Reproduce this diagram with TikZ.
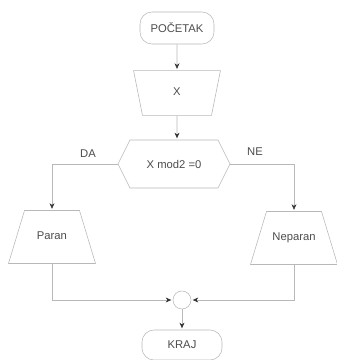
\documentclass[tikz,border=0pt]{standalone}
\usepackage{fontspec}
\setmainfont{Liberation Sans}
\usetikzlibrary{shapes.geometric,shapes.symbols,arrows.meta}
\definecolor{linija}{gray}{0.72}
\definecolor{tekst}{gray}{0.3}
\tikzset{
    blok/.style={draw=linija, text=tekst, font=\fontsize{8}{9}\selectfont, inner sep=1pt},
    terminal/.style={blok, rounded corners=0.3cm, minimum width=1.85cm, minimum height=0.8cm},
    ulaz/.style={blok, trapezium, shape border rotate=180, align=center,
        trapezium left angle=78.7, trapezium right angle=78.7,
        text width=1.725cm, text height=6pt, text depth=2pt, inner xsep=0pt, inner ysep=11.95pt},
    izlaz/.style={blok, trapezium, align=center,
        trapezium left angle=73.2, trapezium right angle=73.2,
        text width=1.375cm, text height=6pt, text depth=2pt, inner xsep=0pt, inner ysep=14.85pt},
    odluka/.style={blok, signal, signal to=east and west, signal pointer angle=127,
        minimum width=2.8cm, minimum height=1.2cm},
    veza/.style={draw=linija, shorten >=1pt, -{Stealth[length=4pt, width=3.5pt, black!80]}}
}
\begin{document}
\begin{tikzpicture}
        \useasboundingbox(0,0)rectangle(8.425,9);
        \node[terminal](poc)at(4.425,8.3){POČETAK};
        \node[ulaz](unos)at(4.425,6.675){X};
        \node[odluka](uslov)at(4.35,4.9){X mod2 =0};
        \node[izlaz](paran)at(1.3,3.075){Paran};
        \node[izlaz](neparan)at(7.35,3.05){Neparan};
        \node[blok, circle, minimum size=0.45cm](spoj)at(4.55,1.5){};
        \node[terminal, minimum width=2cm, minimum height=0.75cm](kraj)at(4.55,0.375){KRAJ};
        \node[text=tekst, font=\fontsize{8}{9}\selectfont]at(2.2,5.15){DA};
        \node[text=tekst, font=\fontsize{8}{9}\selectfont]at(6.375,5.2){NE};
        \draw[veza](poc)--(unos);
        \draw[veza](unos)--(uslov.north-|unos);
        \draw[veza](uslov.west)-|(paran.north);
        \draw[veza](uslov.east)-|(neparan.north);
        \draw[veza](paran.south)|-(spoj.west);
        \draw[veza](neparan.south)|-(spoj.east);
        \draw[veza](spoj)--(kraj);
    \end{tikzpicture}
\end{document}
